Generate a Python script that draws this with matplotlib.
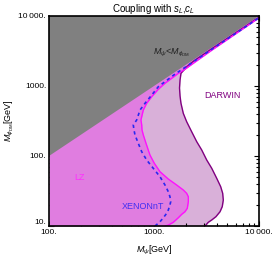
import matplotlib
matplotlib.use("Agg")
import matplotlib.pyplot as plt
from matplotlib.ticker import FixedLocator, FixedFormatter, LogLocator, NullFormatter
from matplotlib.transforms import ScaledTranslation

plt.rcParams['font.family'] = ['Liberation Sans', 'DejaVu Sans']
plt.rcParams['mathtext.fontset'] = 'custom'
plt.rcParams['mathtext.rm'] = 'Liberation Sans'
plt.rcParams['mathtext.it'] = 'Liberation Sans:italic'
plt.rcParams['mathtext.bf'] = 'Liberation Sans:bold'

# ---- data ----
diag_x = [100, 10000]
diag_y = [100, 10000]

lz_mpsi = [1273, 1368, 1527, 1702, 1837, 1972, 2075, 2123, 2123, 2047, 1901, 1644, 1368, 1140, 1007, 916, 839,
           791, 769, 764, 751, 791, 851, 951, 1099, 1273, 1474, 1702, 1972, 2366, 3500, 5200, 7500, 10000]
lz_mphi = [10, 10.3, 11.3, 13.1, 14.7, 16.0, 17.9, 22.2, 26.2, 29.3, 32.7, 38.5, 46.9, 59.7, 78.7, 103, 152,
           200, 235, 277, 327, 454, 566, 703, 898, 1094, 1288, 1517, 1734, 2109, 3200, 4800, 7000, 9400]

xe_mpsi = [1022, 1140, 1227, 1321, 1368, 1419, 1442, 1419, 1368, 1273, 1140, 984, 851, 764, 708, 659, 645,
           635, 684, 736, 821, 951, 1099, 1585, 2300, 3500, 5200, 7500, 10000]
xe_mphi = [10, 11.5, 13.1, 15.2, 16.9, 20, 22.2, 26.2, 30.9, 38.5, 50.6, 66.7, 87.7, 115, 152, 200, 235,
           277, 327, 454, 566, 743, 977, 1480, 2150, 3300, 4900, 7050, 9450]

da_mpsi = [3060, 3289, 3548, 3890, 4253, 4467, 4571, 4510, 4318, 3957, 3548, 3177, 2847, 2553, 2285, 2047,
           1901, 1807, 1770, 1750, 1770, 1807, 2061, 2400, 3500, 5200, 7500, 10000]
da_mphi = [10, 11.3, 12.2, 13.6, 16, 18.9, 23.5, 29.3, 36.4, 48, 66.7, 87.7, 122, 160, 222, 309,
           407, 566, 719, 936, 1219, 1517, 1900, 2290, 3360, 5000, 7200, 9650]

x_ticks = [100, 1000, 10000]
x_ticklabels = ["100.", "1000.", "10\u2009000."]
y_ticks = [10, 100, 1000, 10000]
y_ticklabels = ["10.", "100.", "1000.", "10\u2009000."]

fig = plt.figure(figsize=(2.74, 2.57), dpi=100)
ax = fig.add_axes([49/274, 31/257, 210/274, 210/257])
ax.set_xscale('log')
ax.set_yscale('log')
ax.set_xlim(100, 10000)
ax.set_ylim(10, 10000)

# fills
ax.fill_betweenx(da_mphi, 100, da_mpsi, color='#D9B0D9', lw=0, zorder=1)
ax.fill_betweenx(lz_mphi, 100, lz_mpsi, color='#E07DE0', lw=0, zorder=2)
ax.fill([diag_x[0], diag_x[1], diag_x[0]], [diag_y[0], diag_y[1], diag_y[1]], color='#808080', lw=0, zorder=3)

# lines
ax.plot(da_mpsi, da_mphi, color='#800080', lw=1.0, zorder=4)
ax.plot(lz_mpsi, lz_mphi, color='#FF10FF', lw=1.0, zorder=5)
ax.plot(xe_mpsi, xe_mphi, color='#2828F0', lw=1.2, ls=(0, (2, 2)), zorder=6)

# labels
ax.text(197, 49, "LZ", color='#FF30FF', fontsize=6.5, ha='center', va='center', zorder=7)
ax.text(785, 19.3, "XENONnT", color='#4030F0', fontsize=6.5, ha='center', va='center', zorder=7)
ax.text(4510, 743, "DARWIN", color='#800080', fontsize=6.5, ha='center', va='center', zorder=7)
ax.text(1474, 2990, r"$M_\psi$<$M_{\phi_{\rm DM}}$", color='#202020', fontsize=6.5, ha='center', va='center', zorder=7)

ax.set_title(r"Coupling with $s_L$,$c_L$", fontsize=7, pad=1.5)
ax.set_xlabel(r"$M_\psi$[GeV]", fontsize=6.5, labelpad=6)
ax.set_ylabel(r"$M_{\phi_{\rm DM}}$[GeV]", fontsize=6.5, labelpad=2)

ax.xaxis.set_major_locator(FixedLocator(x_ticks))
ax.xaxis.set_major_formatter(FixedFormatter(x_ticklabels))
ax.yaxis.set_major_locator(FixedLocator(y_ticks))
ax.yaxis.set_major_formatter(FixedFormatter(y_ticklabels))
ax.xaxis.set_minor_locator(LogLocator(base=10, subs=range(2, 10)))
ax.yaxis.set_minor_locator(LogLocator(base=10, subs=range(2, 10)))
ax.xaxis.set_minor_formatter(NullFormatter())
ax.yaxis.set_minor_formatter(NullFormatter())
ax.tick_params(which='both', direction='in', top=True, right=True, labelsize=6, pad=2, width=0.8)
ax.tick_params(which='major', length=3.5)
ax.tick_params(which='minor', length=2)
for s in ax.spines.values():
    s.set_linewidth(1.2)
    s.set_zorder(10)

# raise the bottom y tick label a bit (as in the reference)
ylabels = ax.get_yticklabels()
off = ScaledTranslation(0, 4/100, fig.dpi_scale_trans)
ylabels[0].set_transform(ylabels[0].get_transform() + off)

fig.savefig("out.png", dpi=100)
